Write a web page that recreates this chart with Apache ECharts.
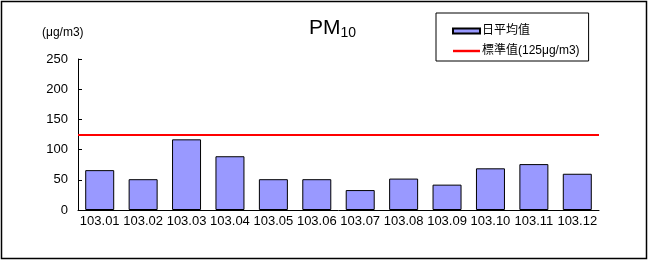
<!DOCTYPE html>
<html>
<head>
<meta charset="utf-8">
<script src="https://cdn.jsdelivr.net/npm/echarts@6/dist/echarts.min.js"></script>
<style>
html,body{margin:0;padding:0;background:#fff;}
#chart{width:653px;height:261px;}
</style>
</head>
<body>
<div id="chart"></div>
<script>
// Monthly PM10 daily-average values (μg/m3), ROC year 103
const months = ['103.01','103.02','103.03','103.04','103.05','103.06','103.07','103.08','103.09','103.10','103.11','103.12'];
const dailyAvg = [66, 51, 117, 89, 51, 51, 33, 52, 42, 69, 76, 60];
const standardValue = 125;
const yTicks = [0, 50, 100, 150, 200, 250];

const barName = '日平均值';
const lineName = '標準值(125μg/m3)';
const latin = '"Liberation Sans", Arial, sans-serif';
const cjk = '"Liberation Sans", "Noto Sans CJK TC", sans-serif';

const chart = echarts.init(document.getElementById('chart'), null, {renderer: 'canvas'});
chart.setOption({
  animation: false,
  backgroundColor: '#fff',
  title: {
    text: '{a|PM}{b|10}',
    left: 304,
    top: 12,
    textStyle: {
      fontWeight: 'normal',
      rich: {
        a: {fontFamily: latin, fontSize: 21, fontWeight: 'normal', color: '#000'},
        b: {fontFamily: latin, fontSize: 14, fontWeight: 'normal', color: '#000', padding: [9, 0, 0, 0]}
      }
    }
  },
  legend: {
    orient: 'vertical',
    left: 436,
    top: 13,
    padding: [12, 9, 4, 16],
    itemGap: 8,
    borderColor: '#000',
    borderWidth: 1,
    borderRadius: 0,
    itemWidth: 27,
    itemHeight: 5,
    textStyle: {fontFamily: cjk, fontSize: 12, color: '#000', padding: [0, 0, 0, -3]},
    data: [
      {name: barName, icon: 'rect'},
      {name: lineName, icon: 'path://M0 0h100v9H0z'}
    ]
  },
  graphic: [
    {
      type: 'rect',
      shape: {x: 1.5, y: 1.5, width: 645, height: 257},
      style: {fill: 'none', stroke: '#000', lineWidth: 1.5},
      silent: true
    },
    {
      type: 'text',
      left: 42,
      top: 27,
      style: {text: '(μg/m3)', fontFamily: latin, fontSize: 12, fill: '#000'}
    }
  ],
  grid: {left: 78, right: 54, top: 59, bottom: 51, containLabel: false},
  xAxis: {
    type: 'category',
    data: months,
    axisLine: {lineStyle: {color: '#000', width: 1}},
    axisTick: {inside: true, length: 4, lineStyle: {color: '#000'}},
    axisLabel: {fontFamily: latin, fontSize: 13, color: '#000', margin: 5, interval: 0}
  },
  yAxis: {
    type: 'value',
    min: yTicks[0],
    max: yTicks[yTicks.length - 1],
    interval: 50,
    axisLine: {show: true, lineStyle: {color: '#000', width: 1}},
    axisTick: {show: true, inside: true, length: 4, lineStyle: {color: '#000'}},
    splitLine: {show: false},
    axisLabel: {fontFamily: latin, fontSize: 13, color: '#000', margin: 10}
  },
  series: [
    {
      name: barName,
      type: 'bar',
      data: dailyAvg,
      barWidth: 29,
      itemStyle: {color: '#9999ff', borderColor: '#000', borderWidth: 1}
    },
    {
      name: lineName,
      type: 'line',
      data: [],
      symbol: 'none',
      itemStyle: {color: '#ff0000', borderWidth: 0},
      lineStyle: {color: '#ff0000', width: 2},
      markLine: {
        silent: true,
        symbol: ['none', 'none'],
        label: {show: false},
        lineStyle: {color: '#ff0000', width: 2, type: 'solid'},
        data: [{yAxis: standardValue}]
      }
    }
  ]
});
</script>
</body>
</html>
